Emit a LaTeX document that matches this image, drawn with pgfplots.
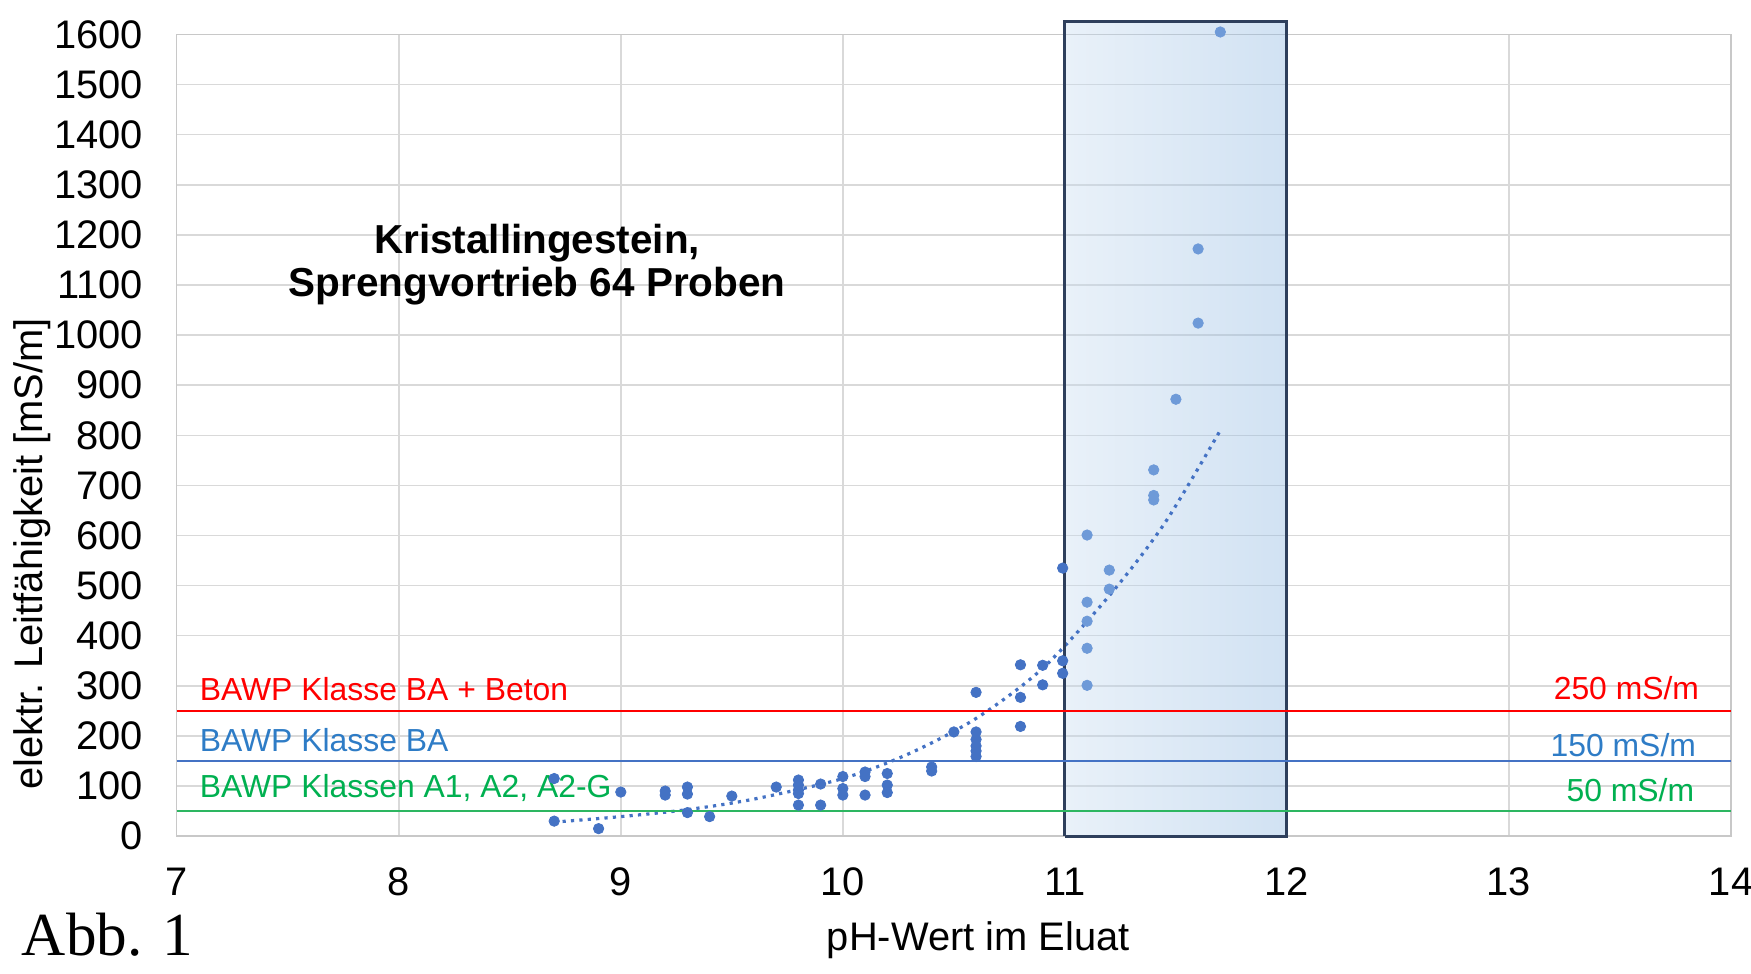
\documentclass[border=0pt]{standalone}
\usepackage{pgfplots}
\pgfplotsset{compat=1.18}
\usepackage{fontspec}
\setmainfont{Liberation Sans}
\newfontfamily\seriffont{Liberation Serif}
\definecolor{gridgray}{HTML}{D9D9D9}
\definecolor{axgray}{HTML}{C8C8C8}
\definecolor{ptblue}{HTML}{4472C4}
\definecolor{ptlight}{HTML}{6E9AD8}
\definecolor{linered}{HTML}{FF0000}
\definecolor{lineblue}{HTML}{4472C4}
\definecolor{linegreen}{HTML}{2DB661}
\definecolor{txtblue}{HTML}{2E7CC6}
\definecolor{txtgreen}{HTML}{00B050}
\definecolor{boxleft}{RGB}{200,220,240}
\definecolor{boxright}{RGB}{140,182,224}
\definecolor{boxborder}{HTML}{2E3F5C}
\begin{document}
\begin{tikzpicture}
\begin{axis}[
  name=ax,
  scale only axis,
  width=777bp, height=400.75bp,
  xmin=7, xmax=14, ymin=0, ymax=1600,
  xtick={7,8,...,14}, ytick={0,100,...,1600},
  grid=major,
  major grid style={color=gridgray, line width=0.75bp},
  axis line style={color=axgray, line width=0.75bp},
  tick style={draw=none}, major tick length=0pt,
  ticklabel style={font=\fontsize{20}{24}\selectfont, text=black, inner sep=0pt},
  /pgf/number format/assume math mode=true,
  /pgf/number format/1000 sep={},
  yticklabel style={xshift=-16.8bp},
  xticklabel style={yshift=-15.6bp},
  xlabel={pH-Wert im Eluat},
  xlabel style={at={(axis description cs:0.5157,-0.1422)}, anchor=base, inner sep=0pt, font=\fontsize{20}{24}\selectfont},
  ylabel={elektr. Leitfähigkeit [mS/m]},
  ylabel style={at={(axis description cs:-0.0931,0.352)}, anchor=center, inner sep=0pt, font=\fontsize{20}{24}\selectfont},
  clip=false,
]
% highlighted pH range 11-12
\addplot[draw=none, left color=boxleft, right color=boxright, fill opacity=0.4] coordinates {(11,0) (11,1626) (12,1626) (12,0)} \closedcycle;
% trend line (dotted)
\addplot[smooth, color=ptblue, line width=1.6bp, dash pattern=on 1.6bp off 2.6bp] table {
x y
8.7 28
9.0 39
9.3 53
9.6 74
10.0 115
10.3 165
10.6 235
10.9 335
11.2 480
11.45 625
11.7 810
};
% measured samples, pH below 11
\addplot[only marks, mark=*, mark size=2.6bp, color=ptblue, mark options={fill=ptblue, draw=ptblue}] table {
x y
8.7 115
8.7 30
8.9 15
9.0 88
9.2 90
9.2 82
9.3 98
9.3 84
9.3 47
9.4 39
9.5 80
9.7 98
9.8 112
9.8 102
9.8 92
9.8 85
9.8 62
9.9 104
9.9 62
10.0 119
10.0 95
10.0 82
10.1 128
10.1 119
10.1 82
10.2 125
10.2 102
10.2 87
10.4 138
10.4 130
10.5 208
10.6 287
10.6 208
10.6 193
10.6 180
10.6 170
10.6 159
10.8 342
10.8 277
10.8 219
10.9 341
10.9 302
10.99 535
10.99 350
10.99 325
};
% measured samples inside the highlighted range
\addplot[only marks, mark=*, mark size=2.6bp, color=ptlight, mark options={fill=ptlight, draw=ptlight}] table {
x y
11.1 601
11.1 467
11.1 429
11.1 375
11.1 301
11.2 531
11.2 493
11.4 731
11.4 680
11.4 671
11.5 872
11.6 1172
11.6 1024
11.7 1605
};
\addplot[draw=boxborder, line width=1.5bp] coordinates {(11,0) (11,1626) (12,1626) (12,0) (11,0)};
% thresholds
\addplot[color=linegreen, line width=1.2bp] coordinates {(7,50) (14,50)};
\addplot[color=lineblue, line width=1.1bp] coordinates {(7,150) (14,150)};
\addplot[color=linered, line width=1.1bp] coordinates {(7,250) (14,250)};
% texts
\node[anchor=base west, inner sep=0pt, text=linered, font=\fontsize{16}{19}\selectfont] at (axis cs:7.102,271.5) {BAWP Klasse BA + Beton};
\node[anchor=base west, inner sep=0pt, text=txtblue, font=\fontsize{16}{19}\selectfont] at (axis cs:7.102,168.3) {BAWP Klasse BA};
\node[anchor=base west, inner sep=0pt, text=txtgreen, font=\fontsize{16}{19}\selectfont] at (axis cs:7.102,77.3) {BAWP Klassen A1, A2, A2-G};
\node[anchor=base east, inner sep=0pt, text=linered, font=\fontsize{16}{19}\selectfont] at (axis cs:13.858,273) {250 mS/m};
\node[anchor=base east, inner sep=0pt, text=txtblue, font=\fontsize{16}{19}\selectfont] at (axis cs:13.844,159.7) {150 mS/m};
\node[anchor=base east, inner sep=0pt, text=txtgreen, font=\fontsize{16}{19}\selectfont] at (axis cs:13.836,68.5) {50 mS/m};
\node[anchor=base, inner sep=0pt, font=\bfseries\fontsize{20.3}{22}\selectfont] at (axis cs:8.623,1163) {Kristallingestein,};
\node[anchor=base, inner sep=0pt, font=\bfseries\fontsize{20.3}{22}\selectfont] at (axis cs:8.623,1076.6) {Sprengvortrieb 64 Proben};
\end{axis}
\node[anchor=base west, inner sep=0pt, font=\seriffont\fontsize{30.7}{34}\selectfont] at ([xshift=-77.6bp,yshift=-59.5bp]ax.south west) {Abb. 1};
\pgfresetboundingbox
\useasboundingbox ([xshift=-88.35bp,yshift=-68.5bp]ax.south west) rectangle ([xshift=10bp,yshift=17.25bp]ax.north east);
\end{tikzpicture}
\end{document}
